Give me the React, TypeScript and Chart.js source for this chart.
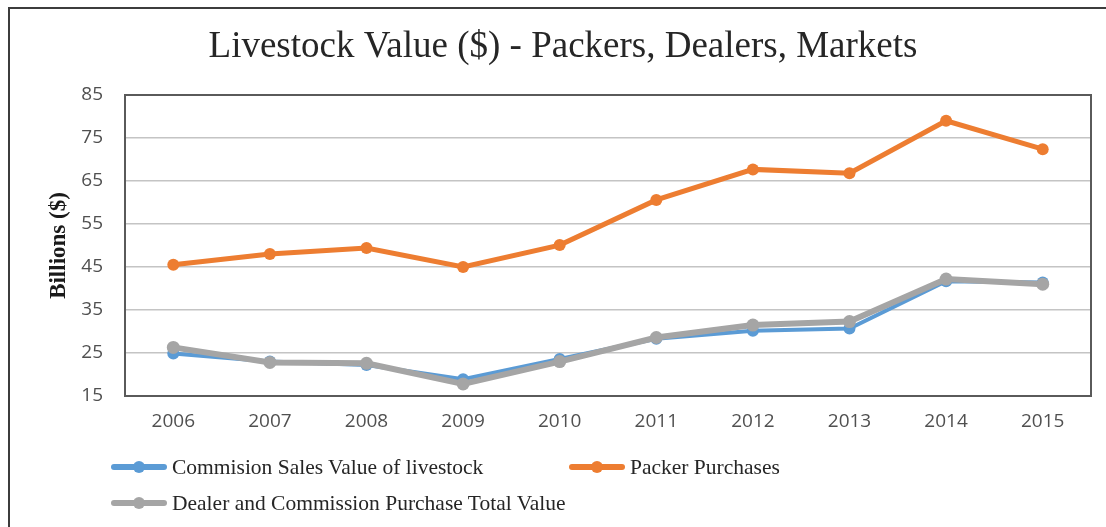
import React, { useEffect, useRef } from "react";
import { Chart, registerables } from "chart.js";

Chart.register(...registerables);

const years = ["2006", "2007", "2008", "2009", "2010", "2011", "2012", "2013", "2014", "2015"];
const commissionSales = [24.9, 23.0, 22.2, 18.9, 23.6, 28.3, 30.2, 30.7, 41.7, 41.4];
const packerPurchases = [45.5, 48.0, 49.4, 45.0, 50.1, 60.6, 67.7, 66.8, 79.0, 72.4];
const dealerCommission = [26.3, 22.8, 22.6, 17.8, 23.0, 28.6, 31.5, 32.3, 42.2, 41.0];

const seriesNames = [
  "Commision Sales Value of livestock",
  "Packer Purchases",
  "Dealer and Commission Purchase Total Value",
];
const seriesColors = ["#5B9BD5", "#ED7D31", "#A5A5A5"];
const seriesWidths = [4, 5, 6];
const seriesRadii = [6, 6, 6.5];
const seriesOrder = [2, 1, 0];

const titleText = "Livestock Value ($) - Packers, Dealers, Markets";
const yTitle = "Billions ($)";

const framePlugin = {
  id: "frame",
  beforeDatasetsDraw(chart: any) {
    const { ctx, chartArea } = chart;
    ctx.save();
    ctx.strokeStyle = "#5a5a5a";
    ctx.lineWidth = 2;
    ctx.strokeRect(chartArea.left, chartArea.top, chartArea.right - chartArea.left, chartArea.bottom - chartArea.top);
    ctx.restore();
  },
};

function LegendItem({ color, label, left, top }: { color: string; label: string; left: number; top: number }) {
  return (
    <div style={{ position: "absolute", left, top, height: 20, display: "flex", alignItems: "center" }}>
      <div style={{ position: "relative", width: 56, height: 20 }}>
        <div style={{ position: "absolute", left: 0, top: 7, width: 56, height: 6, borderRadius: 3, background: color }} />
        <div style={{ position: "absolute", left: 22, top: 4, width: 12, height: 12, borderRadius: 6, background: color }} />
      </div>
      <span
        style={{
          marginLeft: 5,
          fontFamily: "'Liberation Serif', 'Times New Roman', serif",
          fontSize: 21.5,
          color: "#262626",
          whiteSpace: "nowrap",
          lineHeight: "20px",
        }}
      >
        {label}
      </span>
    </div>
  );
}

export default function App() {
  const canvasRef = useRef<HTMLCanvasElement | null>(null);

  useEffect(() => {
    if (!canvasRef.current) return;
    const data = [commissionSales, packerPurchases, dealerCommission];
    const chart = new Chart(canvasRef.current, {
      type: "line",
      data: {
        labels: years,
        datasets: data.map((d, i) => ({
          label: seriesNames[i],
          data: d,
          order: seriesOrder[i],
          borderColor: seriesColors[i],
          backgroundColor: seriesColors[i],
          borderWidth: seriesWidths[i],
          pointRadius: seriesRadii[i],
          pointBorderWidth: 0,
          pointBackgroundColor: seriesColors[i],
          tension: 0,
          fill: false,
        })),
      },
      options: {
        animation: false,
        responsive: true,
        maintainAspectRatio: false,
        events: [],
        layout: { padding: { left: 35, right: 15, top: 0, bottom: 90 } },
        plugins: {
          legend: { display: false },
          tooltip: { enabled: false },
          title: {
            display: true,
            text: titleText,
            color: "#262626",
            font: { family: "'Liberation Serif', 'Times New Roman', serif", size: 37, weight: "normal" },
            padding: { top: 25, bottom: 25.6 },
          },
        },
        scales: {
          x: {
            offset: true,
            grid: { display: false, drawTicks: false },
            border: { display: false },
            ticks: {
              color: "#505050",
              padding: 14,
              font: { family: "'Open Sans', sans-serif", size: 19 },
            },
            afterFit(scale: any) {
              scale.height = 41;
            },
          },
          y: {
            min: 15,
            max: 85,
            ticks: {
              stepSize: 10,
              color: "#505050",
              padding: 22,
              font: { family: "'Open Sans', sans-serif", size: 19 },
            },
            grid: { color: "#c4c4c4", lineWidth: 1.5, drawTicks: false },
            border: { display: false },
            title: {
              display: true,
              text: yTitle,
              color: "#1a1a1a",
              font: { family: "'Liberation Serif', 'Times New Roman', serif", size: 23, weight: "bold" },
              padding: { top: 10, bottom: 0 },
            },
            afterFit(scale: any) {
              scale.width = 90;
            },
          },
        },
      },
      plugins: [framePlugin],
    });
    return () => chart.destroy();
  }, []);

  return (
    <div style={{ position: "absolute", left: 0, top: 0, width: 1106, height: 527, overflow: "hidden", background: "#fff" }}>
      <div
        style={{
          position: "absolute",
          left: 8,
          top: 7,
          width: 1120,
          height: 540,
          borderTop: "2px solid #3c3c3c",
          borderLeft: "2px solid #3c3c3c",
          boxSizing: "border-box",
        }}
      />
      <div style={{ position: "absolute", left: 0, top: 0, width: 1106, height: 527 }}>
        <canvas ref={canvasRef} />
      </div>
      <LegendItem color={seriesColors[0]} label={seriesNames[0]} left={111} top={457} />
      <LegendItem color={seriesColors[1]} label={seriesNames[1]} left={569} top={457} />
      <LegendItem color={seriesColors[2]} label={seriesNames[2]} left={111} top={493} />
    </div>
  );
}
